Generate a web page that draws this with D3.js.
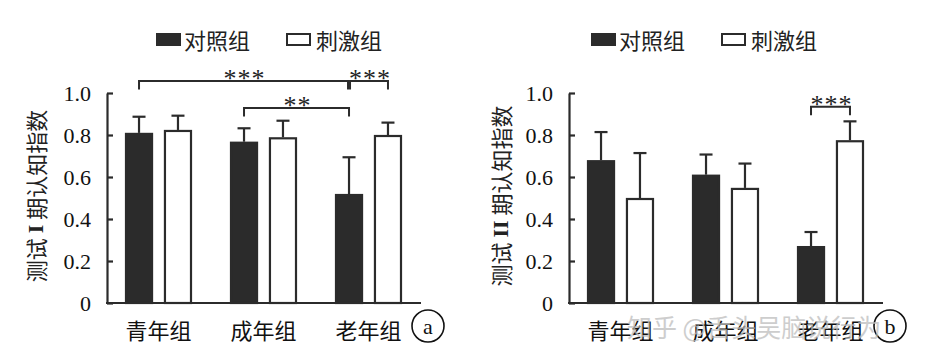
<!DOCTYPE html>
<html><head><meta charset="utf-8">
<script src="https://cdn.jsdelivr.net/npm/d3@7"></script>
<style>
body{margin:0;background:#fff;}
svg{display:block;}
.num{font-family:"Liberation Serif","DejaVu Serif",serif;}
.cjk{font-family:"Noto Sans CJK SC","Noto Sans",sans-serif;}
</style></head>
<body>
<svg id="chart" width="932" height="361"></svg>
<script>
// ---- data ----
const groups = ["青年组", "成年组", "老年组"];
const series = ["对照组", "刺激组"];
const yTicks = [0, 0.2, 0.4, 0.6, 0.8, 1.0];
const yTickLabels = ["0", "0.2", "0.4", "0.6", "0.8", "1.0"];

const aControl = [0.81, 0.768, 0.519];
const aControlErr = [0.077, 0.064, 0.175];
const aStim = [0.824, 0.789, 0.80];
const aStimErr = [0.068, 0.079, 0.059];

const bControl = [0.68, 0.611, 0.271];
const bControlErr = [0.134, 0.096, 0.067];
const bStim = [0.50, 0.548, 0.775];
const bStimErr = [0.214, 0.116, 0.09];

// brackets: [fromGroup, fromSeries, toGroup, toSeries, level, label]
const aBrackets = [
  ["青年组", "对照组", "老年组", "对照组", 1.057, "***"],
  ["老年组", "对照组", "老年组", "刺激组", 1.057, "***"],
  ["成年组", "对照组", "老年组", "对照组", 0.928, "**"]
];
const bBrackets = [
  ["老年组", "对照组", "老年组", "刺激组", 0.935, "***"]
];

const panels = [
  {ox: 106, control: aControl, controlErr: aControlErr, stim: aStim, stimErr: aStimErr,
   brackets: aBrackets, numeral: "I", letter: "a", titleX: 35, legendX: 156},
  {ox: 568, control: bControl, controlErr: bControlErr, stim: bStim, stimErr: bStimErr,
   brackets: bBrackets, numeral: "II", letter: "b", titleX: 500, legendX: 591}
];

const svg = d3.select("#chart");
const ink = "#2b2b2b";

const y = d3.scaleLinear().domain([0, 1]).range([303, 93]);

panels.forEach((p, pi) => {
  const g = svg.append("g");
  const x0 = d3.scaleBand().domain(groups).range([p.ox, p.ox + 315]);
  const x1 = d3.scaleBand().domain(series).range([19, 86]).paddingInner(0.28);
  const cx = (gr, s) => x0(gr) + x1(s) + x1.bandwidth() / 2;

  const rows = [];
  groups.forEach((gr, i) => {
    rows.push({g: gr, s: "对照组", v: p.control[i], e: p.controlErr[i]});
    rows.push({g: gr, s: "刺激组", v: p.stim[i], e: p.stimErr[i]});
  });

  // error bars (upper only)
  const eb = g.append("g").attr("stroke", ink).attr("stroke-width", 2.2);
  rows.forEach(r => {
    const c = cx(r.g, r.s);
    eb.append("line").attr("x1", c).attr("x2", c).attr("y1", y(r.v)).attr("y2", y(r.v + r.e));
    eb.append("line").attr("x1", c - 6.5).attr("x2", c + 6.5).attr("y1", y(r.v + r.e)).attr("y2", y(r.v + r.e));
  });

  // bars
  g.append("g").selectAll("rect").data(rows).join("rect")
    .attr("x", d => x0(d.g) + x1(d.s) + 1)
    .attr("width", x1.bandwidth() - 2)
    .attr("y", d => y(d.v) + 1)
    .attr("height", d => y(0) - y(d.v) - 1)
    .attr("fill", d => d.s === "对照组" ? ink : "#fff")
    .attr("stroke", ink)
    .attr("stroke-width", 2.2);

  // y axis
  const yAxis = d3.axisLeft(y).tickValues(yTicks).tickFormat((d, i) => yTickLabels[i])
    .tickSizeInner(-6).tickSizeOuter(0).tickPadding(16);
  const ya = g.append("g").attr("transform", `translate(${p.ox + 1},0)`).call(yAxis)
    .attr("font-family", null).attr("font-size", null);
  ya.select(".domain").attr("stroke", ink).attr("stroke-width", 2.2);
  ya.selectAll(".tick line").attr("stroke", ink).attr("stroke-width", 2.2);
  ya.selectAll(".tick text").attr("class", "num").style("font-size", "22px").attr("fill", "#111");

  // x axis
  const xAxis = d3.axisBottom(x0).tickSize(0).tickPadding(0);
  const xa = g.append("g").attr("transform", `translate(0,${y(0)})`).call(xAxis)
    .attr("font-family", null).attr("font-size", null);
  xa.select(".domain").attr("stroke", ink).attr("stroke-width", 2.2)
    .attr("d", `M${p.ox},0H${p.ox + 315}`);
  xa.selectAll(".tick text").attr("class", "cjk").style("font-size", "22px")
    .attr("fill", "#111").attr("dy", null).attr("y", 26).attr("dominant-baseline", "central");

  // y title
  const t = g.append("text").attr("class", "cjk")
    .attr("transform", `translate(${p.titleX},196) rotate(-90)`)
    .attr("text-anchor", "middle").attr("dominant-baseline", "central")
    .style("font-size", "22px").attr("fill", "#222");
  t.append("tspan").text("测试 ");
  t.append("tspan").attr("class", "num").style("font-weight", "bold").text(p.numeral);
  t.append("tspan").text(" 期认知指数");

  // brackets
  p.brackets.forEach((b, bi) => {
    const yl = y(b[4]);
    const leg = 8.5;
    let x1s = cx(b[0], b[1]), x2s = cx(b[2], b[3]);
    if (pi === 0 && bi === 0) x2s -= 1;
    if (pi === 0 && bi === 1) x1s += 1;
    g.append("path")
      .attr("d", `M${x1s},${yl + leg}V${yl}H${x2s}V${yl + leg}`)
      .attr("fill", "none").attr("stroke", ink).attr("stroke-width", 2);
    g.append("text").attr("class", "num").attr("x", (x1s + x2s) / 2 + 1).attr("y", yl + 6)
      .attr("text-anchor", "middle").style("font-size", "26px")
      .style("letter-spacing", "1px").attr("fill", "#222").text(b[5]);
  });

  // legend
  const lg = g.append("g").attr("transform", `translate(${p.legendX},0)`);
  lg.append("rect").attr("x", 1).attr("y", 34).attr("width", 23).attr("height", 11)
    .attr("fill", ink).attr("stroke", ink).attr("stroke-width", 2);
  lg.append("text").attr("class", "cjk").attr("x", 28).attr("y", 39).attr("dominant-baseline", "central")
    .style("font-size", "22px").attr("fill", "#222").text(series[0]);
  lg.append("rect").attr("x", 131).attr("y", 34).attr("width", 23).attr("height", 11)
    .attr("fill", "#fff").attr("stroke", ink).attr("stroke-width", 2);
  lg.append("text").attr("class", "cjk").attr("x", 160).attr("y", 39).attr("dominant-baseline", "central")
    .style("font-size", "22px").attr("fill", "#222").text(series[1]);

  // panel letter
  const lx = p.ox + 322, ly = 326;
  g.append("circle").attr("cx", lx).attr("cy", ly).attr("r", 16)
    .attr("fill", "none").attr("stroke", "#111").attr("stroke-width", 1.6);
  g.append("text").attr("class", "num").attr("x", lx).attr("y", ly).attr("text-anchor", "middle")
    .attr("dominant-baseline", "central").style("font-size", "22px")
    .attr("fill", "#111").text(p.letter);
});

// watermark (overlaps the category labels, as in the source image)
svg.append("text").attr("class", "cjk").attr("x", 627).attr("y", 326).attr("dominant-baseline", "central")
  .style("font-size", "25px").attr("fill", "#bdbdbd").attr("opacity", 0.75)
  .text("知乎 @舌头吴脑说行为");
</script>
</body></html>
